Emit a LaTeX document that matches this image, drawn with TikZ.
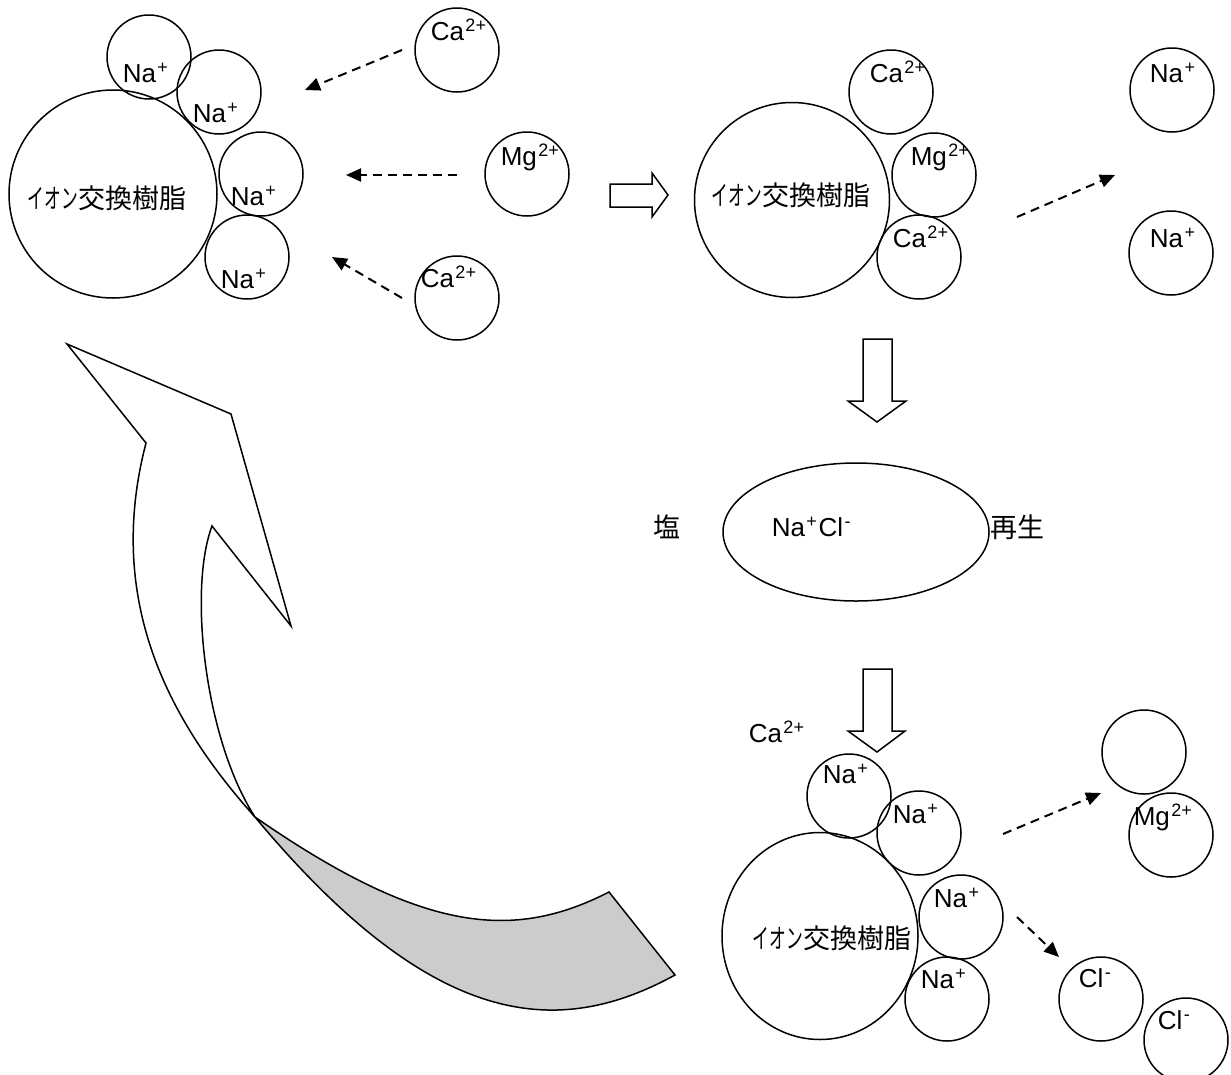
\documentclass[tikz,border=0pt]{standalone}
\usepackage{graphicx}
\usepackage{fontspec}
\setmainfont{Liberation Sans}
\newfontfamily\jpfont{Noto Sans CJK JP}
\usetikzlibrary{arrows.meta,shapes.geometric}
\newcommand\resintext{\scalebox{0.62}[1]{イオン}交換樹脂}
% name, x, y, base text, superscript text
\newcommand\ionlbl[5]{\node[lbl] (#1) at (#2,#3) {#4};\node[supp] (#1s) at (#1.base east) {#5};}
\begin{document}
\begin{tikzpicture}[x=1pt,y=-1pt,line width=1.5pt,
  ion/.style={circle,draw,minimum size=84pt,inner sep=0pt,line width=1.5pt},
  resin/.style={circle,draw,inner sep=0pt,line width=1.5pt},
  lbl/.style={anchor=base west,inner sep=0pt,font=\fontsize{26}{30}\selectfont},
  supp/.style={anchor=base west,inner sep=0pt,yshift=8.5pt,font=\fontsize{18}{18}\selectfont},
  jlbl/.style={inner sep=0pt,font=\jpfont\fontsize{27}{30}\selectfont},
  flow/.style={dash pattern=on 9pt off 6pt,line width=2pt,-{Triangle[length=15pt,width=13pt]}},
  blockarrow/.style={draw,line width=1.5pt,fill=white,line join=miter}]
\useasboundingbox (0,0) rectangle (1231,1074);

% ---------- top-left group ----------
\node[resin,minimum size=208pt] (rA) at (113,194) {};
\node[ion] (a1) at (149,57) {};
\node[ion] (a2) at (219,92) {};
\node[ion] (a3) at (261,174) {};
\node[ion] (a4) at (247,257) {};
\node[jlbl] (rAt) at (107,198) {\resintext};
\ionlbl{a1t}{122}{82}{Na}{+}
\ionlbl{a2t}{192}{122}{Na}{+}
\ionlbl{a3t}{230}{205}{Na}{+}
\ionlbl{a4t}{220}{288}{Na}{+}

\node[ion] (b1) at (457,50) {};
\node[ion] (b2) at (527,174) {};
\node[ion] (b3) at (457,298) {};
\ionlbl{b1t}{430}{40}{Ca}{2+}
\ionlbl{b2t}{500}{165}{Mg}{2+}
\ionlbl{b3t}{420}{287}{Ca}{2+}

\coordinate (f1s) at (402,50);  \coordinate (f1e) at (305,90);
\coordinate (f2s) at (457,175); \coordinate (f2e) at (346,175);
\coordinate (f3s) at (402,298); \coordinate (f3e) at (332,257);
\draw[flow] (f1s) -- (f1e);
\draw[flow] (f2s) -- (f2e);
\draw[flow] (f3s) -- (f3e);

% right block arrow
\draw[blockarrow] (610,184) -- (652,184) -- (652,173) -- (668,195) -- (652,217) -- (652,207) -- (610,207) -- cycle;

% ---------- top-middle group ----------
\node[resin,minimum size=195pt] (rB) at (792,200) {};
\node[ion] (c1) at (891,92) {};
\node[ion] (c2) at (934,175) {};
\node[ion] (c3) at (919,257) {};
\node[jlbl] (rBt) at (791,195) {\resintext};
\ionlbl{c1t}{869}{82}{Ca}{2+}
\ionlbl{c2t}{910}{165}{Mg}{2+}
\ionlbl{c3t}{892}{247}{Ca}{2+}

\coordinate (f4s) at (1017,217); \coordinate (f4e) at (1115,175);
\draw[flow] (f4s) -- (f4e);
\node[ion] (d1) at (1172,90) {};
\node[ion] (d2) at (1171,253) {};
\ionlbl{d1t}{1149}{82}{Na}{+}
\ionlbl{d2t}{1149}{247}{Na}{+}

% down block arrow 1
\draw[blockarrow] (863,339) -- (892,339) -- (892,401) -- (906,401) -- (877,422) -- (848,401) -- (863,401) -- cycle;

% ---------- salt ----------
\node[draw,ellipse,minimum width=266pt,minimum height=138pt,inner sep=0pt] (salt) at (856,532) {};
\ionlbl{saltn}{771}{536}{Na}{+}
\node[lbl] (saltc) at (saltns.base east |- saltn.base) {Cl};
\node[supp] (saltcs) at (saltc.base east) {-};
\node[jlbl] (shio) at (667,527) {塩};
\node[jlbl] (sai) at (1017,527) {再生};

% down block arrow 2
\draw[blockarrow] (863,669) -- (892,669) -- (892,731) -- (905,731) -- (877,752) -- (848,731) -- (863,731) -- cycle;

% ---------- bottom group ----------
\ionlbl{ecat}{748}{742}{Ca}{2+}
\node[draw,ellipse,minimum width=196pt,minimum height=207pt,inner sep=0pt] (rC) at (820,936) {};
\node[ion] (e1) at (849,796) {};
\node[ion] (e2) at (919,833) {};
\node[ion] (e3) at (961,917) {};
\node[ion] (e4) at (947,999) {};
\node[jlbl] (rCt) at (832,938) {\resintext};
\ionlbl{e1t}{822}{783}{Na}{+}
\ionlbl{e2t}{892}{823}{Na}{+}
\ionlbl{e3t}{933}{907}{Na}{+}
\ionlbl{e4t}{920}{988}{Na}{+}

\coordinate (f5s) at (1003,834); \coordinate (f5e) at (1101,793);
\coordinate (f6s) at (1017,917); \coordinate (f6e) at (1059,957);
\draw[flow] (f5s) -- (f5e);
\draw[flow] (f6s) -- (f6e);

\node[ion] (g0) at (1144,752) {};
\node[ion] (g1) at (1171,835) {};
\ionlbl{g1t}{1133}{825}{Mg}{2+}
\node[ion] (g2) at (1101,999) {};
\node[ion] (g3) at (1186,1040) {};
\ionlbl{g2t}{1078}{987}{Cl}{-}
\ionlbl{g3t}{1157}{1029}{Cl}{-}

% ---------- curved return arrow ----------
\coordinate (cx) at (255,817);
\coordinate (n1) at (146,443);
\coordinate (n2) at (212,526);
\coordinate (tip) at (67,344);
\coordinate (h1) at (231,414);
\coordinate (h2) at (291,626);
\coordinate (t1) at (609,892);
\coordinate (t2) at (675,975);
\filldraw[fill=white,line join=miter]
  (n1) .. controls (105,600) and (168,720) .. (cx)
       .. controls (205,740) and (188,590) .. (n2)
  -- (h2) -- (h1) -- (tip) -- cycle;
\filldraw[fill=black!20,line join=miter]
  (cx) .. controls (425,935) and (515,940) .. (t1)
  -- (t2) .. controls (560,1038) and (435,1033) .. (cx) -- cycle;
\end{tikzpicture}
\end{document}
